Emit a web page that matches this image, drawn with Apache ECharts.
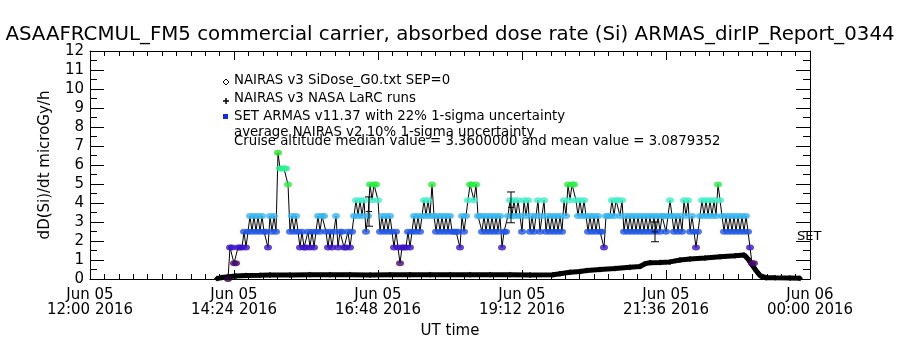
<!DOCTYPE html>
<html>
<head>
<meta charset="utf-8">
<title>ARMAS absorbed dose rate</title>
<script src="https://cdn.jsdelivr.net/npm/echarts@6/dist/echarts.min.js"></script>
<style>
html, body { margin: 0; padding: 0; background: #fff; }
#chart { width: 900px; height: 350px; }
</style>
</head>
<body>
<div id="chart"></div>
<script>
// x is minutes after 2016-06-05 12:00 UT
var tickLabels = ['Jun 05\n12:00 2016', 'Jun 05\n14:24 2016', 'Jun 05\n16:48 2016',
  'Jun 05\n19:12 2016', 'Jun 05\n21:36 2016', 'Jun 06\n00:00 2016'];

// ARMAS dose rate, one sample every 2 min from 14:18
var armasStart = 138;
var armasStep = 2;
var armasDose = [
  0, 1.66, 1.66, 0.83, 0.83, 1.66, 1.66, 1.66, 2.49, 1.66,
  2.49, 3.32, 2.49, 3.32, 2.49, 3.32, 2.49, 3.32, 2.49, 2.49,
  1.66, 3.32, 2.49, 3.32, 2.49, 6.64, 5.81, 5.81, 5.81, 5.81,
  4.98, 2.49, 3.32, 2.49, 3.32, 2.49, 1.66, 2.49, 1.66, 1.66,
  2.49, 1.66, 2.49, 1.66, 2.49, 3.32, 2.49, 3.32, 3.32, 2.49,
  1.66, 2.49, 1.66, 2.49, 3.32, 1.66, 2.49, 2.49, 1.66, 1.66,
  2.49, 1.66, 2.49, 3.32, 4.15, 3.32, 4.15, 3.32, 4.15, 2.49,
  3.32, 4.98, 4.15, 4.98, 4.98, 4.15, 2.49, 3.32, 2.49, 3.32,
  2.49, 3.32, 2.49, 1.66, 2.49, 1.66, 0.83, 1.66, 1.66, 1.66,
  2.49, 1.66, 2.49, 3.32, 2.49, 3.32, 2.49, 3.32, 4.15, 3.32,
  4.15, 3.32, 4.98, 3.32, 2.49, 3.32, 2.49, 3.32, 2.49, 3.32,
  2.49, 3.32, 2.49, 2.49, 2.49, 2.49, 1.66, 3.32, 2.49, 3.32,
  4.15, 4.98, 4.98, 4.15, 4.98, 3.32, 3.32, 2.49, 3.32, 2.49,
  3.32, 2.49, 3.32, 2.49, 3.32, 2.49, 3.32, 1.66, 2.49, 2.49,
  3.32, 4.15, 3.32, 4.15, 3.32, 4.15, 3.32, 2.49, 4.15, 3.32,
  4.15, 2.49, 3.32, 2.49, 3.32, 4.15, 2.49, 3.32, 4.15, 2.49,
  3.32, 2.49, 3.32, 2.49, 3.32, 2.49, 3.32, 2.49, 4.15, 3.32,
  4.98, 4.15, 4.98, 4.98, 4.15, 3.32, 4.15, 3.32, 4.15, 3.32,
  2.49, 3.32, 2.49, 3.32, 2.49, 3.32, 2.49, 2.49, 1.66, 3.32,
  3.32, 3.32, 4.15, 3.32, 4.15, 4.15, 3.32, 4.15, 2.49, 3.32,
  2.49, 3.32, 2.49, 3.32, 2.49, 3.32, 2.49, 3.32, 2.49, 3.32,
  2.49, 3.32, 2.49, 3.32, 2.49, 3.32, 2.49, 3.32, 3.32, 2.49,
  3.32, 4.15, 3.32, 2.49, 3.32, 2.49, 3.32, 2.49, 4.15, 3.32,
  4.15, 2.49, 3.32, 2.49, 1.66, 2.49, 3.32, 4.15, 3.32, 4.15,
  3.32, 4.15, 3.32, 4.15, 3.32, 4.98, 4.15, 3.32, 2.49, 3.32,
  2.49, 3.32, 2.49, 3.32, 2.49, 3.32, 2.49, 3.32, 2.49, 3.32,
  2.49, 1.66, 0.83, 0.83
];

// NAIRAS v3 SiDose model along the flight
var nairasTime = [127, 132, 138, 146, 156, 170, 180, 200, 220, 240, 260, 280, 300, 320, 340,
  360, 380, 400, 420, 440, 463, 470, 480, 490, 497, 510, 525, 540, 550, 555, 560, 570, 580,
  590, 600, 615, 630, 645, 654, 656, 658, 660, 662, 664, 666, 668, 670, 672, 676, 685, 700, 710];
var nairasDose = [0.02, 0.08, 0.12, 0.16, 0.19, 0.2, 0.21, 0.21, 0.22, 0.22, 0.22, 0.21, 0.22, 0.22, 0.23,
  0.22, 0.22, 0.22, 0.22, 0.21, 0.22, 0.28, 0.35, 0.4, 0.45, 0.5, 0.55, 0.62, 0.66, 0.8, 0.86, 0.87, 0.9,
  1.0, 1.05, 1.1, 1.17, 1.22, 1.26, 1.2, 1.05, 0.9, 0.75, 0.6, 0.45, 0.32, 0.18, 0.1, 0.07, 0.06, 0.05, 0.04];

// NAIRAS v3 NASA LaRC runs with 1-sigma bars
var larcTime = [279, 421, 565];
var larcDose = [3.55, 3.77, 2.48];
var larcLow = [2.78, 2.96, 1.96];
var larcHigh = [4.32, 4.58, 3.0];

var font = 'DejaVu Sans';

var chart = echarts.init(document.getElementById('chart'));

var armasData = armasDose.map(function (v, i) { return [armasStart + i * armasStep, v]; });
var nairasData = nairasTime.map(function (t, i) { return [t, nairasDose[i]]; });
var larcData = larcTime.map(function (t, i) { return [t, larcDose[i], larcLow[i], larcHigh[i]]; });

var xTick = { show: true, inside: true, length: 9, lineStyle: { color: '#000' } };
var xMinor = { show: true, splitNumber: 10, length: 5, lineStyle: { color: '#000' } };
var yTick = { show: true, inside: true, length: 14, lineStyle: { color: '#000' } };
var yMinor = { show: true, splitNumber: 2, length: 7, lineStyle: { color: '#000' } };
var axisLine = { show: true, onZero: false, lineStyle: { color: '#000', width: 1 } };

function legendText(x, y, text) {
  return { type: 'text', x: x, y: y, style: { text: text, fill: '#000', font: '13.3px "DejaVu Sans"', verticalAlign: 'middle' } };
}

var option = {
  animation: false,
  backgroundColor: '#fff',
  title: {
    text: 'ASAAFRCMUL_FM5 commercial carrier, absorbed dose rate (Si) ARMAS_dirIP_Report_0344',
    left: 'center', top: 25, padding: 0,
    textStyle: { fontFamily: font, fontSize: 19.8, fontWeight: 'normal', color: '#000' }
  },
  grid: { left: 90, right: 90, top: 51, bottom: 71 },
  xAxis: [{
    type: 'value', min: 0, max: 720, interval: 144,
    name: 'UT time', nameLocation: 'middle', nameGap: 45,
    nameTextStyle: { fontFamily: font, fontSize: 15, color: '#000' },
    axisLine: axisLine, axisTick: xTick, minorTick: xMinor, splitLine: { show: false },
    axisLabel: {
      margin: 9, fontFamily: font, fontSize: 15, color: '#000', lineHeight: 15,
      formatter: function (v) { return tickLabels[Math.round(v / 144)]; }
    }
  }, {
    type: 'value', min: 0, max: 720, interval: 144, position: 'top',
    axisLine: axisLine, axisTick: xTick, minorTick: xMinor, splitLine: { show: false },
    axisLabel: { show: false }
  }],
  yAxis: [{
    type: 'value', min: 0, max: 12, interval: 1,
    name: 'dD(Si)/dt microGy/h', nameLocation: 'middle', nameGap: 37,
    nameTextStyle: { fontFamily: font, fontSize: 15, color: '#000' },
    axisLine: axisLine, axisTick: yTick, minorTick: yMinor, splitLine: { show: false },
    axisLabel: { margin: 6, fontFamily: font, fontSize: 15, color: '#000' }
  }, {
    type: 'value', min: 0, max: 12, interval: 1, position: 'right',
    axisLine: axisLine, axisTick: yTick, minorTick: yMinor, splitLine: { show: false },
    axisLabel: { show: false }
  }],
  visualMap: {
    show: false, type: 'piecewise', seriesIndex: 2, dimension: 1,
    pieces: [
      { min: -1, max: 0.4, color: '#2a0040' },
      { min: 0.4, max: 1.2, color: '#4a0a70' },
      { min: 1.2, max: 2.0, color: '#3c14c8' },
      { min: 2.0, max: 2.9, color: '#1e55e6' },
      { min: 2.9, max: 3.7, color: '#35b5f0' },
      { min: 3.7, max: 4.5, color: '#3cf0c8' },
      { min: 4.5, max: 5.4, color: '#28ec44' },
      { min: 5.4, max: 6.2, color: '#2af08c' },
      { min: 6.2, max: 8, color: '#28e428' }
    ]
  },
  series: [{
    name: 'NAIRAS v3 SiDose_G0.txt SEP=0', type: 'line', data: nairasData,
    symbol: 'diamond', symbolSize: 6, showSymbol: true,
    itemStyle: { color: '#000' }, lineStyle: { color: '#000', width: 5 }, z: 1
  }, {
    name: 'ARMAS line', type: 'line', data: armasData, showSymbol: false,
    lineStyle: { color: '#000', width: 1 }, z: 2
  }, {
    name: 'SET ARMAS v11.37', type: 'scatter', data: armasData,
    symbol: 'circle', symbolSize: [8, 6], z: 3
  }, {
    name: 'NAIRAS v3 NASA LaRC runs', type: 'custom', data: larcData, z: 4,
    encode: { x: 0, y: 1 },
    renderItem: function (params, api) {
      var c = api.coord([api.value(0), api.value(1)]);
      var lo = api.coord([api.value(0), api.value(2)]);
      var hi = api.coord([api.value(0), api.value(3)]);
      var st = { stroke: '#000', lineWidth: 1 };
      return { type: 'group', children: [
        { type: 'line', shape: { x1: lo[0], y1: lo[1], x2: hi[0], y2: hi[1] }, style: st },
        { type: 'line', shape: { x1: lo[0] - 4, y1: lo[1], x2: lo[0] + 4, y2: lo[1] }, style: st },
        { type: 'line', shape: { x1: hi[0] - 4, y1: hi[1], x2: hi[0] + 4, y2: hi[1] }, style: st },
        { type: 'line', shape: { x1: c[0] - 3, y1: c[1], x2: c[0] + 3, y2: c[1] }, style: st }
      ] };
    }
  }],
  graphic: [
    { type: 'polygon', shape: { points: [[226, 79], [229, 82], [226, 85], [223, 82]] },
      style: { fill: '#fff', stroke: '#000', lineWidth: 1 } },
    legendText(234, 81, 'NAIRAS v3 SiDose_G0.txt SEP=0'),
    { type: 'line', shape: { x1: 223, y1: 101, x2: 229, y2: 101 }, style: { stroke: '#000', lineWidth: 1.5 } },
    { type: 'line', shape: { x1: 226, y1: 98, x2: 226, y2: 104 }, style: { stroke: '#000', lineWidth: 1.5 } },
    legendText(234, 99, 'NAIRAS v3 NASA LaRC runs'),
    { type: 'rect', shape: { x: 223, y: 114, width: 5, height: 5 }, style: { fill: '#1030e0' } },
    legendText(234, 117, 'SET ARMAS v11.37 with 22% 1-sigma uncertainty'),
    legendText(234, 133, 'average NAIRAS v2 10% 1-sigma uncertainty'),
    legendText(234, 142, 'Cruise altitude median value = 3.3600000 and mean value = 3.0879352'),
    { type: 'text', x: 797, y: 237, style: { text: 'SET', fill: '#000', font: '13px "DejaVu Sans"', verticalAlign: 'middle' } }
  ]
};

chart.setOption(option);
</script>
</body>
</html>
